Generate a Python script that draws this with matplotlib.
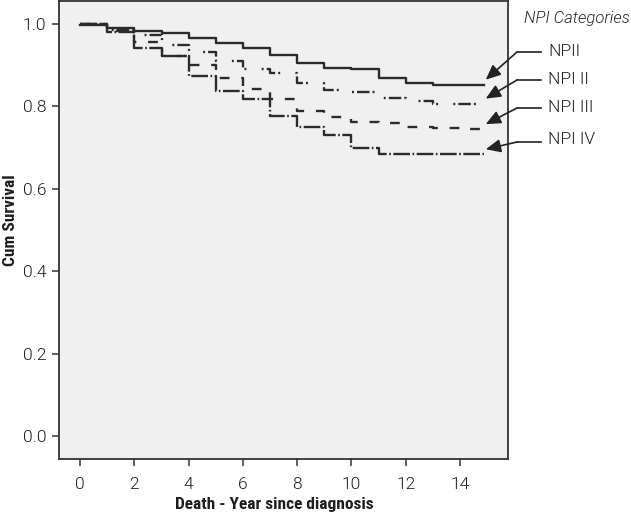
import matplotlib
matplotlib.use("Agg")
import matplotlib.pyplot as plt
from matplotlib.lines import Line2D

plt.rcParams['lines.scale_dashes'] = False

# ---- data ----
years = list(range(15))
end_time = 14.9
categories = ["NPII", "NPI II", "NPI III", "NPI IV"]
surv_npi_i = [0.998, 0.990, 0.984, 0.979, 0.965, 0.955, 0.941, 0.925, 0.906,
              0.893, 0.890, 0.870, 0.856, 0.853, 0.853]
surv_npi_ii = [1.000, 0.985, 0.973, 0.949, 0.933, 0.910, 0.890, 0.880, 0.858,
               0.841, 0.836, 0.820, 0.812, 0.807, 0.807]
surv_npi_iii = [1.000, 0.982, 0.957, 0.922, 0.900, 0.868, 0.842, 0.817, 0.790,
                0.775, 0.763, 0.759, 0.751, 0.748, 0.745]
surv_npi_iv = [1.000, 0.980, 0.941, 0.922, 0.874, 0.838, 0.817, 0.777, 0.749,
               0.731, 0.698, 0.684, 0.684, 0.684, 0.684]
series = [surv_npi_i, surv_npi_ii, surv_npi_iii, surv_npi_iv]
xticks = [0, 2, 4, 6, 8, 10, 12, 14]
yticks = [0.0, 0.2, 0.4, 0.6, 0.8, 1.0]

styles = [
    '-',
    (0, (1.4, 2.2, 9, 2.2, 1.4, 11)),
    (0, (7, 8.5)),
    (0, (12, 1.8, 1.2, 1.8)),
]

W, H = 631, 514
fig = plt.figure(figsize=(W / 100, H / 100), dpi=100)
ax = fig.add_axes([59 / W, 1 - 459 / H, (508 - 59) / W, (459 - 1) / H])
ax.set_facecolor('#f0f0f0')
line_color = '#2b2b2b'

for vals, ls in zip(series, styles):
    xs = years + [end_time]
    ys = vals + [vals[-1]]
    ax.step(xs, ys, where='post', color=line_color, lw=1.7, linestyle=ls)

ax.set_xlim(-0.78, 15.77)
ax.set_ylim(-0.056, 1.056)
ax.set_xticks(xticks)
ax.set_xticklabels([str(v) for v in xticks])
ax.set_yticks(yticks)
ax.set_yticklabels([f"{v:.1f}" for v in yticks])

text_family = ['Roboto', 'DejaVu Sans']
for lab in ax.get_xticklabels() + ax.get_yticklabels():
    lab.set_fontfamily(text_family)
    lab.set_fontsize(12.5)
    lab.set_color('#1e1e1e')
    lab.set_fontweight(300)
ax.tick_params(axis='both', direction='out', length=5, width=1.1, color='#333333')
ax.tick_params(axis='x', pad=8)
ax.tick_params(axis='y', pad=4)
for sp in ax.spines.values():
    sp.set_color('#333333')
    sp.set_linewidth(1.3)

label_family = ['Roboto Condensed', 'DejaVu Sans']
ax.set_xlabel("Death - Year since diagnosis", fontsize=12.5, fontweight='bold',
              family=label_family, color='#1e1e1e', va='center')
ax.set_ylabel("Cum Survival", fontsize=12.5, fontweight='bold',
              family=label_family, color='#1e1e1e', va='center')
ax.xaxis.set_label_coords((274 - 59) / (508 - 59), -(504 - 459) / (459 - 1))
ax.yaxis.set_label_coords(-(59 - 11) / (508 - 59), (459 - 220) / (459 - 1))

# legend-like annotations
fig.text(524 / W, 1 - 18 / H, "NPI Categories", fontsize=12, style='italic',
         fontweight=300, family=text_family,
         color='#2a2a2a', ha='left', va='center')
label_y = [52, 80, 108, 140]
line_y = [52, 80, 108, 142]
for name, vals, ly, hy in zip(categories, series, label_y, line_y):
    fig.text(548 / W, 1 - ly / H, name, fontsize=12.5, color='#1e1e1e',
             fontweight=300, family=text_family,
             ha='left', va='center')
    fig.add_artist(Line2D([517 / W, 541 / W], [1 - hy / H, 1 - hy / H],
                          transform=fig.transFigure, color='#222222', lw=1.2))
    ax.annotate("", xy=(end_time + 0.05, vals[-1] + 0.012),
                xycoords='data',
                xytext=(517 / W, 1 - hy / H), textcoords='figure fraction',
                arrowprops=dict(arrowstyle='-|>,head_length=0.9,head_width=0.4',
                                color='#222222', lw=1.2, shrinkA=0, shrinkB=0),
                annotation_clip=False)

fig.savefig("out.png", dpi=100, facecolor='white')
